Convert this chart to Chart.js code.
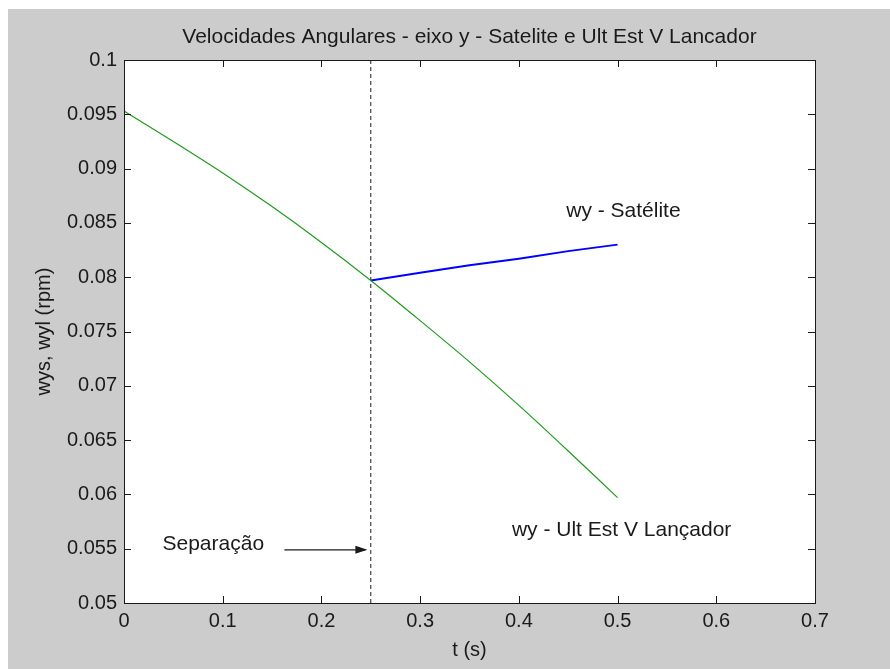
<!DOCTYPE html>
<html>
<head>
<meta charset="utf-8">
<script src="https://cdn.jsdelivr.net/npm/chart.js@4.4.0/dist/chart.umd.min.js"></script>
<style>
  body { margin: 0; background: #fff; }
  #wrap { width: 890px; height: 669px; }
</style>
</head>
<body>
<div id="wrap"><canvas id="chart" width="890" height="669"></canvas></div>
<script>
// values
const tLanc = [0, 0.05, 0.1, 0.15, 0.2, 0.25, 0.3, 0.35, 0.4, 0.45, 0.5];
const wyLanc = [0.0953, 0.0925, 0.0896, 0.0865, 0.0832, 0.0797, 0.0760, 0.0722, 0.0682, 0.0640, 0.0597];
const tSat = [0.25, 0.3, 0.35, 0.4, 0.45, 0.5];
const wySat = [0.0797, 0.0804, 0.0811, 0.0817, 0.0824, 0.0830];

const sepX = [0.25, 0.25];
const sepY = [0.05, 0.1];
const arrowX = [0.1625, 0.2445];
const arrowY = [0.0549, 0.0549];

const xTicks = [0, 0.1, 0.2, 0.3, 0.4, 0.5, 0.6, 0.7];
const yTicks = [0.05, 0.055, 0.06, 0.065, 0.07, 0.075, 0.08, 0.085, 0.09, 0.095, 0.1];

const chartTitle = 'Velocidades Angulares - eixo y - Satelite e Ult Est V Lancador';
const xTitle = 't (s)';
const yTitle = 'wys, wyl (rpm)';
const notes = [
    {text: 'wy - Satélite', x: 0.448, y: 0.0855},
    {text: 'wy - Ult Est V Lançador', x: 0.393, y: 0.0562},
    {text: 'Separação', x: 0.039, y: 0.0549}
];

const FAMILY = '"Liberation Sans", Arial, sans-serif';
const TEXT_FONT = '21px ' + FAMILY;
const INK = '#1a1a1a';

function toPoints(xs, ys) {
    return xs.map((x, i) => ({x: x, y: ys[i]}));
}

function fmt(v) {
    return String(Number(v.toFixed(4)));
}

// figure background, white axes box, inward ticks, texts
const matlabLook = {
    id: 'matlab_look',
    beforeDraw: (chart) => {
        const ctx = chart.ctx;
        const a = chart.chartArea;
        ctx.save();
        ctx.fillStyle = '#fff';
        ctx.fillRect(0, 0, chart.width, chart.height);
        ctx.fillStyle = '#cccccc';
        ctx.fillRect(8, 9, chart.width - 8, chart.height - 9);
        ctx.fillStyle = '#fff';
        ctx.fillRect(a.left, a.top, a.right - a.left, a.bottom - a.top);
        ctx.restore();
    },
    afterDraw: (chart) => {
        const ctx = chart.ctx;
        const a = chart.chartArea;
        const xs = chart.scales.x;
        const ys = chart.scales.y;
        const tl = 7;

        ctx.save();
        ctx.strokeStyle = INK;
        ctx.lineWidth = 1;
        ctx.beginPath();
        xTicks.forEach(v => {
            let px = Math.round(xs.getPixelForValue(v)) + 0.5;
            ctx.moveTo(px, a.bottom); ctx.lineTo(px, a.bottom - tl);
            ctx.moveTo(px, a.top); ctx.lineTo(px, a.top + tl);
        });
        yTicks.forEach(v => {
            let py = Math.round(ys.getPixelForValue(v)) + 0.5;
            ctx.moveTo(a.left, py); ctx.lineTo(a.left + tl, py);
            ctx.moveTo(a.right, py); ctx.lineTo(a.right - tl, py);
        });
        ctx.stroke();
        ctx.strokeRect(Math.round(a.left) + 0.5, Math.round(a.top) + 0.5,
            Math.round(a.right - a.left), Math.round(a.bottom - a.top));

        // arrow head
        let tipX = xs.getPixelForValue(arrowX[1]);
        let tipY = ys.getPixelForValue(arrowY[1]);
        ctx.fillStyle = INK;
        ctx.beginPath();
        ctx.moveTo(tipX + 2, tipY);
        ctx.lineTo(tipX - 10, tipY - 4);
        ctx.lineTo(tipX - 10, tipY + 4);
        ctx.closePath();
        ctx.fill();

        // texts
        ctx.font = TEXT_FONT;
        ctx.fillStyle = INK;
        ctx.textBaseline = 'alphabetic';
        ctx.textAlign = 'center';
        ctx.fillText(chartTitle, (a.left + a.right) / 2, 43);
        ctx.textAlign = 'left';
        notes.forEach(n => {
            ctx.fillText(n.text, xs.getPixelForValue(n.x), ys.getPixelForValue(n.y));
        });
        ctx.restore();
    }
};

new Chart(document.getElementById('chart'), {
    type: 'scatter',
    data: {
        datasets: [
            {
                label: 'wy - Ult Est V Lançador',
                data: toPoints(tLanc, wyLanc),
                showLine: true,
                borderColor: '#1f9a1f',
                borderWidth: 1.2,
                pointRadius: 0,
                tension: 0.2
            },
            {
                label: 'wy - Satélite',
                data: toPoints(tSat, wySat),
                showLine: true,
                borderColor: '#0000ff',
                borderWidth: 2,
                pointRadius: 0
            },
            {
                label: 'sep',
                data: toPoints(sepX, sepY),
                showLine: true,
                borderColor: INK,
                borderWidth: 1,
                borderDash: [4, 3],
                pointRadius: 0
            },
            {
                label: 'arrow',
                data: toPoints(arrowX, arrowY),
                showLine: true,
                borderColor: INK,
                borderWidth: 1.2,
                pointRadius: 0
            }
        ]
    },
    options: {
        responsive: false,
        animation: false,
        layout: {padding: {left: 0, top: 60, right: 75, bottom: 0}},
        plugins: {
            legend: {display: false},
            tooltip: {enabled: false}
        },
        scales: {
            x: {
                type: 'linear',
                min: 0,
                max: 0.7,
                afterBuildTicks: (scale) => { scale.ticks = xTicks.map(v => ({value: v})); },
                afterFit: (scale) => { scale.height = 66; },
                grid: {display: false, drawTicks: false},
                border: {display: false},
                ticks: {
                    color: INK,
                    font: {family: FAMILY, size: 20},
                    padding: 6,
                    maxRotation: 0,
                    callback: (v) => fmt(v)
                },
                title: {
                    display: true,
                    text: xTitle,
                    color: INK,
                    font: {family: FAMILY, size: 20},
                    padding: {top: 0, bottom: 7}
                }
            },
            y: {
                type: 'linear',
                min: 0.05,
                max: 0.1,
                afterBuildTicks: (scale) => { scale.ticks = yTicks.map(v => ({value: v})); },
                afterFit: (scale) => { scale.width = 124; },
                grid: {display: false, drawTicks: false},
                border: {display: false},
                ticks: {
                    color: INK,
                    font: {family: FAMILY, size: 20},
                    padding: 7,
                    callback: (v) => fmt(v)
                },
                title: {
                    display: true,
                    text: yTitle,
                    color: INK,
                    font: {family: FAMILY, size: 20},
                    padding: {top: 32, bottom: 0}
                }
            }
        }
    },
    plugins: [matlabLook]
});
</script>
</body>
</html>
